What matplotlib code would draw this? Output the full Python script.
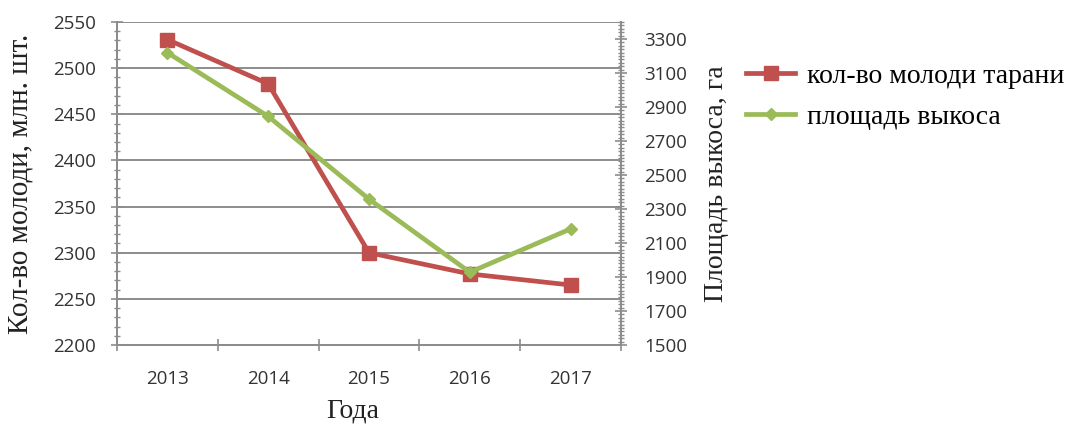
import numpy as np
import matplotlib
matplotlib.use("Agg")
import matplotlib.pyplot as plt
from matplotlib.ticker import MultipleLocator, FixedLocator

# --- data ---------------------------------------------------------------
years = ["2013", "2014", "2015", "2016", "2017"]
taran_juveniles = [2531, 2483, 2300, 2277, 2265]     # млн. шт.
mowing_area = [3220, 2845, 2358, 1928, 2183]          # га

RED = "#C0504D"
GREEN = "#9BBB59"
GRID = "#8C8C8C"
SERIF = "Liberation Serif"
SANS = "Open Sans"

fig = plt.figure(figsize=(10.69, 4.29), dpi=100)
ax = fig.add_axes([117 / 1069, 1 - 345 / 429, (621 - 117) / 1069, (345 - 22) / 429])
ax2 = ax.twinx()

x = np.arange(1, len(years) + 1)

l1, = ax.plot(x, taran_juveniles, color=RED, lw=3.4, marker="s", ms=10,
              label="кол-во молоди тарани", solid_joinstyle="round")
l2, = ax2.plot(x, mowing_area, color=GREEN, lw=3.4, marker="D", ms=6,
               label="площадь выкоса", solid_joinstyle="round")

# left axis
ax.set_xlim(0.5, len(years) + 0.5)
ax.set_ylim(2200, 2550)
ax.yaxis.set_major_locator(MultipleLocator(50))
ax.yaxis.set_minor_locator(MultipleLocator(10))
ax.grid(axis="y", which="major", color=GRID, lw=1.4)
ax.set_axisbelow(True)

# category axis: labels centred, ticks between categories
ax.set_xticks(x)
ax.set_xticklabels(years)
ax.xaxis.set_minor_locator(FixedLocator(np.arange(0.5, len(years) + 1, 1)))
ax.tick_params(axis="x", which="major", length=0, pad=18)
ax.tick_params(axis="x", which="minor", length=8, direction="inout",
               color=GRID, width=1.2)

ax.tick_params(axis="y", which="major", length=8, direction="inout",
               color=GRID, width=1.2, pad=11)
ax.tick_params(axis="y", which="minor", length=5, direction="inout",
               color=GRID, width=1.0)

# right axis
ax2.set_ylim(1500, 3400)
ax2.yaxis.set_major_locator(FixedLocator(np.arange(1500, 3301, 200)))
ax2.yaxis.set_minor_locator(MultipleLocator(20))
ax2.tick_params(axis="y", which="major", length=8, direction="inout",
                color=GRID, width=1.2, pad=13)
ax2.tick_params(axis="y", which="minor", length=5, direction="inout",
                color=GRID, width=1.0)

for a in (ax, ax2):
    a.spines["top"].set_visible(False)
    for side in ("left", "right", "bottom"):
        a.spines[side].set_color(GRID)
        a.spines[side].set_linewidth(1.4)
    for lab in a.get_yticklabels() + a.get_xticklabels():
        lab.set_fontfamily(SANS)
        lab.set_fontsize(13.5)
        lab.set_color("#333333")

ax.set_ylabel("Кол-во молоди, млн. шт.", fontfamily=SERIF, fontsize=21,
              color="#222222")
ax.yaxis.set_label_coords(-0.165, 0.5)
ax2.set_ylabel("Площадь выкоса, га", fontfamily=SERIF, fontsize=20,
               color="#222222")
ax2.yaxis.set_label_coords(1.165, 0.5)
ax.set_xlabel("Года", fontfamily=SERIF, fontsize=20, color="#222222")
ax.xaxis.set_label_coords(0.468, -0.165)

fig.legend(handles=[l1, l2], loc="upper left", bbox_to_anchor=(738 / 1069, 1 - 55 / 429),
           frameon=False, handlelength=1.75, handletextpad=0.45, labelspacing=0.55,
           borderaxespad=0, borderpad=0.3,
           prop={"family": SERIF, "size": 20})

fig.savefig("out.png", dpi=100)
